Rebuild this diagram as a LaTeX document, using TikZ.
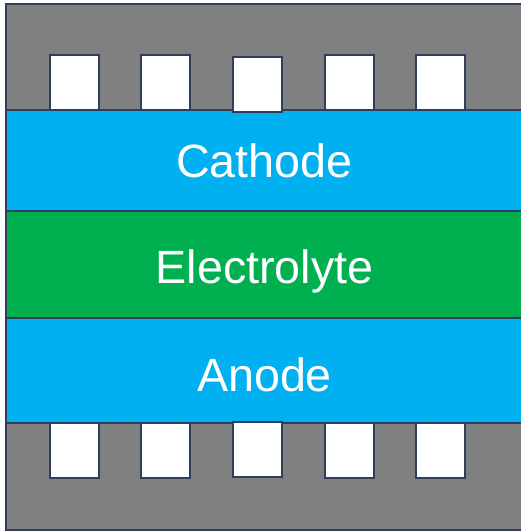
\documentclass[tikz,border=0pt]{standalone}
\usepackage{fontspec}
\setmainfont{Liberation Sans}
\usetikzlibrary{positioning}

\definecolor{caseGray}{HTML}{808080}
\definecolor{layerBlue}{HTML}{00B0F0}
\definecolor{layerGreen}{HTML}{00B050}
\definecolor{edgeNavy}{HTML}{2F3E5C}

\begin{document}
\begin{tikzpicture}[x=0.75pt, y=-0.75pt,
    edge/.style={draw=edgeNavy, line width=2pt},
    label/.style={text=white, anchor=base, font=\fontsize{35}{42}\selectfont}]
    % Page
    \fill[white] (0,0) rectangle (521,532);
    \useasboundingbox (0,0) rectangle (521,532);

    % Casing
    \filldraw[edge, fill=caseGray] (6,4) rectangle (523,530);

    % Layers
    \filldraw[edge, fill=layerBlue] (6,110) rectangle (523,211);
    \filldraw[edge, fill=layerGreen] (6,211) rectangle (523,318);
    \filldraw[edge, fill=layerBlue] (6,318) rectangle (523,423);

    % Contact pads
    \foreach \x/\dy [count=\i] in {50/0, 141/0, 233/2, 325/0, 416/0} {
        \filldraw[edge, fill=white] (\x,55+\dy) rectangle (\x+49,110+\dy);
        \filldraw[edge, fill=white] (\x,423-\dy/2) rectangle (\x+49,478-\dy/2);
    }

    % Layer names
    \node[label] (cathode) at (264.5,177) {Cathode};
    \node[label] (electrolyte) at (264.5,283) {Electrolyte};
    \node[label] (anode) at (264.5,391) {Anode};
\end{tikzpicture}
\end{document}
